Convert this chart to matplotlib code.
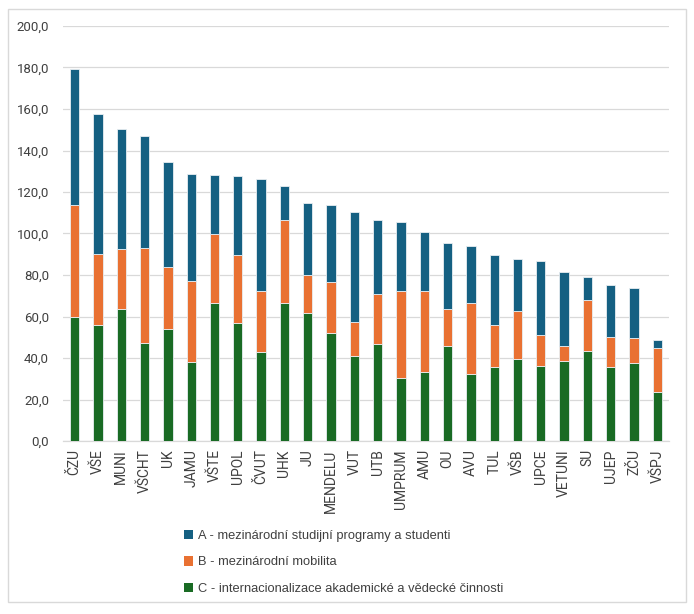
import matplotlib
matplotlib.use('Agg')
import matplotlib.pyplot as plt
from matplotlib.ticker import FuncFormatter, MultipleLocator
from matplotlib.patches import Rectangle
import numpy as np

plt.rcParams['font.family'] = ['Roboto', 'DejaVu Sans']

# vysoke skoly
skoly = ['ČZU', 'VŠE', 'MUNI', 'VŠCHT', 'UK', 'JAMU', 'VŠTE', 'UPOL', 'ČVUT', 'UHK',
         'JU', 'MENDELU', 'VUT', 'UTB', 'UMPRUM', 'AMU', 'OU', 'AVU', 'TUL', 'VŠB',
         'UPCE', 'VETUNI', 'SU', 'UJEP', 'ZČU', 'VŠPJ']

# C - internacionalizace akademicke a vedecke cinnosti
c_vals = [60.0, 56.0, 63.5, 47.0, 54.0, 38.0, 66.5, 57.0, 43.0, 66.5,
          61.5, 52.0, 41.0, 46.6, 30.2, 33.1, 45.8, 32.4, 35.8, 39.7,
          36.3, 38.6, 43.4, 35.5, 37.8, 23.8]
# B - mezinarodni mobilita
b_vals = [53.5, 34.0, 29.0, 46.0, 30.0, 39.0, 33.5, 32.5, 29.5, 40.0,
          18.5, 24.5, 16.3, 24.1, 42.1, 39.2, 17.8, 34.1, 20.1, 22.8,
          14.8, 7.0, 24.4, 14.6, 11.7, 21.0]
# A - mezinarodni studijni programy a studenti
a_vals = [66.0, 67.5, 58.0, 54.0, 50.5, 51.5, 28.0, 38.0, 54.0, 16.5,
          34.5, 37.0, 53.2, 35.8, 33.2, 28.3, 31.7, 27.3, 33.7, 25.1,
          35.8, 35.8, 11.2, 25.2, 24.4, 3.9]

modra = '#156082'
oranzova = '#E97132'
zelena = '#196B24'
seda = '#D9D9D9'

fig = plt.figure(figsize=(6.94, 6.14), dpi=100)
ax = fig.add_axes([63 / 694, 1 - 441 / 614, 606 / 694, 415 / 614])

x = np.arange(len(skoly))
c = np.array(c_vals)
b = np.array(b_vals)
a = np.array(a_vals)
w = 0.4
kw = dict(width=w, edgecolor='#E8EEF2', linewidth=0.6, zorder=3)
pc = ax.bar(x, c, color=zelena, label='C - internacionalizace akademické a vědecké činnosti', **kw)
pb = ax.bar(x, b, bottom=c, color=oranzova, label='B - mezinárodní mobilita', **kw)
pa = ax.bar(x, a, bottom=c + b, color=modra, label='A - mezinárodní studijní programy a studenti', **kw)

ax.set_xlim(-0.5, len(skoly) - 0.5)
ax.set_ylim(0, 200)
ax.yaxis.set_major_locator(MultipleLocator(20))
ax.yaxis.set_major_formatter(FuncFormatter(lambda v, p: f'{v:.1f}'.replace('.', ',')))
ax.grid(axis='y', color=seda, linewidth=0.9, zorder=0)
for s in ['top', 'right', 'left']:
    ax.spines[s].set_visible(False)
ax.spines['bottom'].set_color(seda)
ax.spines['bottom'].set_linewidth(0.9)
ax.set_xticks(x)
ax.set_xticklabels(skoly, rotation=90, fontsize=10, color='#404040')
ax.tick_params(axis='y', labelsize=9.5, labelcolor='#404040', length=0, pad=10)
ax.tick_params(axis='x', length=0, pad=6)

leg = fig.legend(handles=[pa, pb, pc], loc='upper left',
                 bbox_to_anchor=(172 / 694, 1 - 518 / 614), frameon=False,
                 handlelength=0.75, handleheight=0.75, handletextpad=0.35,
                 labelspacing=1.1,
                 prop={'family': ['Liberation Sans', 'DejaVu Sans'], 'size': 9.3})
for t in leg.get_texts():
    t.set_color('#404040')
for h in leg.legend_handles:
    h.set_edgecolor('none')

fig.patches.append(Rectangle((8 / 694, 1 - 602 / 614), 678 / 694, 593 / 614,
                             transform=fig.transFigure, fill=False,
                             edgecolor=seda, linewidth=1))

fig.savefig('out.png', dpi=100)
